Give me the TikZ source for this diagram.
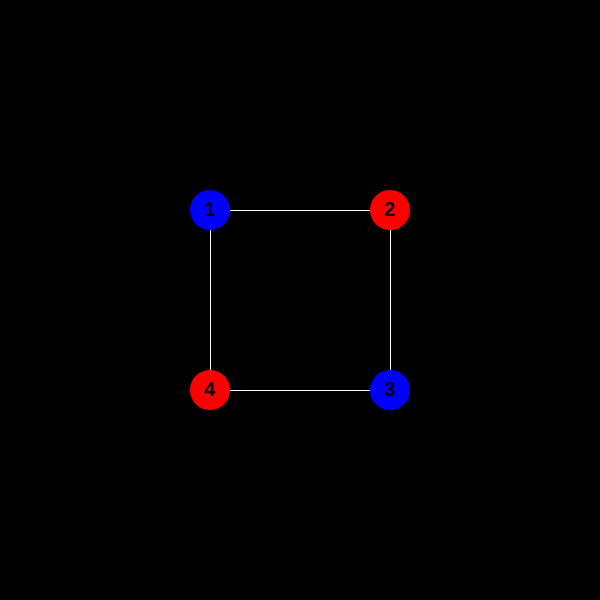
\documentclass[tikz,border=0pt]{standalone}
\usepackage{fontspec}
\setmainfont{Liberation Sans}
\begin{document}
\begin{tikzpicture}[x=1pt,y=-1pt,
  vtx/.style={circle,minimum size=40pt,inner sep=0pt,text=black,font=\fontsize{20}{20}\selectfont\bfseries},
  bluev/.style={vtx,fill={rgb,255:red,0;green,0;blue,255}},
  redv/.style={vtx,fill={rgb,255:red,255;green,0;blue,0}},
  edge/.style={draw=white,line width=1pt}]
\fill[black] (0,0) rectangle (600,600);
\useasboundingbox (0,0) rectangle (600,600);
\node[bluev] (n1) at (210,210) {1};
\node[redv] (n2) at (390,210) {2};
\node[bluev] (n3) at (390,390) {3};
\node[redv] (n4) at (210,390) {4};
\draw[edge] (n1) -- (n2);
\draw[edge] (n2) -- (n3);
\draw[edge] (n3) -- (n4);
\draw[edge] (n4) -- (n1);
\end{tikzpicture}
\end{document}
